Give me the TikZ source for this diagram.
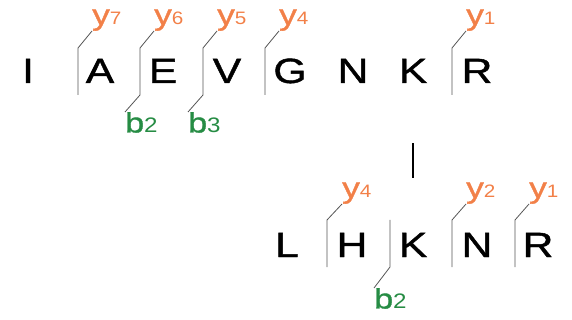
\documentclass[tikz,border=0pt]{standalone}
\usepackage{fontspec}
\setmainfont{Liberation Sans}
\newfontfamily\seqfont[FakeStretch=1.22,FakeBold=1.2]{Liberation Sans}
\newfontfamily\numfont[FakeStretch=1.15]{Liberation Sans}
\usepackage{tikz}
\definecolor{yorange}{RGB}{242,128,72}
\definecolor{bgreen}{RGB}{38,140,68}
\definecolor{cutgray}{RGB}{85,85,85}
\newcommand{\yno}[1]{{\numfont\fontsize{18}{18}\selectfont #1}}
\newcommand{\bno}[1]{{\numfont\fontsize{21}{21}\selectfont #1}}

\begin{document}
\begin{tikzpicture}[x=1pt,y=-1pt,
		residue/.style={
			font=\seqfont\fontsize{35}{35}\selectfont,
			inner sep=0pt,
			anchor=base
		},
		yion/.style={
			text=yorange,
			font=\seqfont\fontsize{29}{29}\selectfont,
			inner sep=0pt,
			anchor=south west
		},
		bion/.style={
			text=bgreen,
			font=\seqfont\fontsize{28}{28}\selectfont,
			inner sep=0pt,
			anchor=north west
		},
		cut/.style={draw=cutgray, line width=0.8pt},
		xlink/.style={line width=2.4pt}
		]
		
		\useasboundingbox (0,0) rectangle (572,320);
		
		% Upper peptide
		\node[residue] at (28,83) (tI) {I};
		\node[residue] at (100,83) (tA) {A};
		\node[residue] at (163,83) (tE) {E};
		\node[residue] at (227,83) (tV) {V};
		\node[residue] at (290,83) (tG) {G};
		\node[residue] at (353,83) (tN) {N};
		\node[residue] at (413,83) (tK) {K};
		\node[residue] at (477,83) (tR) {R};
		
		% Lower peptide
		\node[residue] at (287,257) (lL) {L};
		\node[residue] at (352,257) (lH) {H};
		\node[residue] at (413,257) (lK) {K};
		\node[residue] at (477,257) (lN) {N};
		\node[residue] at (538,257) (lR) {R};
		
		% Cross-link
		\draw[xlink, shorten <=60pt, shorten >=55pt] (tK.south) -- (lK.north);
		
		% Upper fragment ions
		\node[yion] at (92,31) (ty7) {y\yno{7}};
		\node[yion] at (154,31) (ty6) {y\yno{6}};
		\node[yion] at (217,31) (ty5) {y\yno{5}};
		\node[yion] at (279,31) (ty4) {y\yno{4}};
		\node[yion] at (466,31) (ty1) {y\yno{1}};
		\node[bion] at (125,112) (tb2) {b\bno{2}};
		\node[bion] at (188,112) (tb3) {b\bno{3}};
		
		\draw[cut] (ty7.south west) -- ++(-14,17) -- ++(0,47);
		\draw[cut] (ty6.south west) -- ++(-14,17) -- ++(0,47) -- (tb2.north west);
		\draw[cut] (ty5.south west) -- ++(-14,17) -- ++(0,47) -- (tb3.north west);
		\draw[cut] (ty4.south west) -- ++(-14,17) -- ++(0,47);
		\draw[cut] (ty1.south west) -- ++(-14,17) -- ++(0,47);
		
		% Lower fragment ions
		\node[yion] at (342,204) (ly4) {y\yno{4}};
		\node[yion] at (466,204) (ly2) {y\yno{2}};
		\node[yion] at (529,204) (ly1) {y\yno{1}};
		\node[bion] at (374,288) (lb2) {b\bno{2}};
		
		\draw[cut] (ly4.south west) -- ++(-15,16) -- ++(0,47);
		\draw[cut] (ly2.south west) -- ++(-14,16) -- ++(0,47);
		\draw[cut] (ly1.south west) -- ++(-14,16) -- ++(0,47);
		\draw[cut] (lb2.north west) -- ++(16,-21) -- ++(0,-47);
		
	\end{tikzpicture}
\end{document}
